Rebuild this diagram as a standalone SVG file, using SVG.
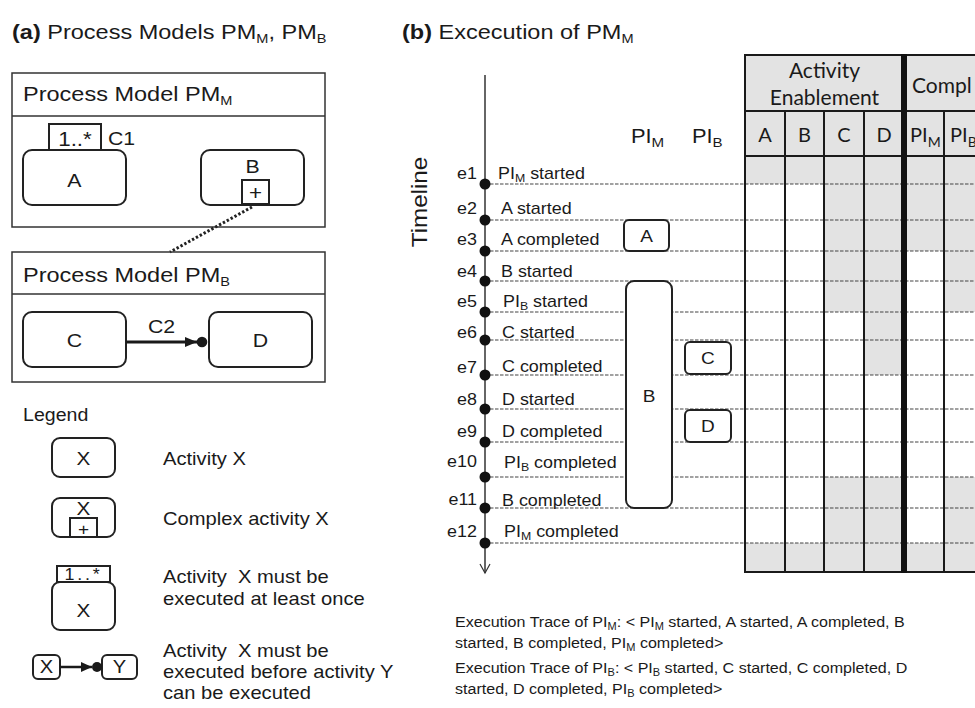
<svg xmlns="http://www.w3.org/2000/svg" width="975" height="708" viewBox="0 0 975 708">
<defs>
<marker id="tri" markerUnits="userSpaceOnUse" markerWidth="12" markerHeight="10" refX="12" refY="5" orient="auto"><path d="M0,0 L12,5 L0,10 z" fill="#1a1a1a"/></marker>
<marker id="tri2" markerUnits="userSpaceOnUse" markerWidth="11" markerHeight="10" refX="11" refY="5" orient="auto"><path d="M0,0 L11,5 L0,10 z" fill="#1a1a1a"/></marker>
</defs>
<style>
text{font-family:"Liberation Sans",Arial,Helvetica,sans-serif;fill:#1a1a1a}
.s{transform-box:fill-box;transform-origin:0 50%;transform:scaleX(1.12)}
.m{text-anchor:middle;transform-box:fill-box;transform-origin:50% 50%;transform:scaleX(1.12)}
.e{text-anchor:end;transform-box:fill-box;transform-origin:100% 50%;transform:scaleX(1.12)}
.s5{transform-box:fill-box;transform-origin:0 50%;transform:scaleX(1.05)}
.pre{white-space:pre}
.act{fill:#fff;stroke:#222;stroke-width:2}
.cont{fill:#fff;stroke:#333;stroke-width:1.5}
.tl{font-size:16px}
.bt{font-size:15.3px}
.lg{font-size:18px}
.cal{font-family:Lato,"Open Sans",sans-serif}
.grid{stroke:#1a1a1a;stroke-width:2;fill:none}
.dash{stroke:#444;stroke-width:1.2;stroke-dasharray:3.5 1.5}
.gray{fill:#e3e3e3}
.dot{fill:#111}
</style>
<rect width="975" height="708" fill="#fff"/>

<!-- Titles -->
<text class="s" x="12" y="39" font-size="21"><tspan font-weight="bold">(a)</tspan> Process Models PM<tspan font-size="13" dy="4">M</tspan><tspan dy="-4">, PM</tspan><tspan font-size="13" dy="4">B</tspan></text>
<text class="s" x="402" y="39" font-size="21"><tspan font-weight="bold">(b)</tspan> Excecution of PM<tspan font-size="13" dy="4">M</tspan></text>

<!-- Process model PM_M -->
<g id="pm-m">
<rect class="cont" x="12" y="73" width="313" height="154"/>
<line x1="12" y1="116" x2="325" y2="116" stroke="#333" stroke-width="1.5"/>
<text class="s" x="23" y="101" font-size="21">Process Model PM<tspan font-size="13" dy="4">M</tspan></text>
</g>
<g id="act-a">
<rect class="act" x="23" y="150" width="103" height="55" rx="9"/>
<text class="m" x="74.5" y="187" font-size="19">A</text>
<rect x="49" y="124" width="52" height="26" fill="#fff" stroke="#222" stroke-width="2"/>
<text class="m" x="75" y="146" font-size="20">1..*</text>
<text class="s" x="108" y="145" font-size="19">C1</text>
</g>
<g id="act-b">
<rect class="act" x="201" y="150" width="103" height="55" rx="9"/>
<text class="m" x="252.5" y="173" font-size="19">B</text>
<rect x="242" y="180" width="27" height="24" fill="#fff" stroke="#222" stroke-width="2"/>
<text class="m" x="255.5" y="200" font-size="20">+</text>
</g>

<!-- Process model PM_B -->
<g id="pm-b">
<rect class="cont" x="12" y="252" width="313" height="130"/>
<line x1="12" y1="294" x2="325" y2="294" stroke="#333" stroke-width="1.5"/>
<text class="s" x="23" y="282" font-size="21">Process Model PM<tspan font-size="13" dy="4">B</tspan></text>
</g>
<g id="act-c">
<rect class="act" x="23" y="312" width="103" height="55" rx="9"/>
<text class="m" x="74.5" y="347" font-size="19">C</text>
</g>
<g id="act-d">
<rect class="act" x="209" y="312" width="103" height="55" rx="9"/>
<text class="m" x="260.5" y="347" font-size="19">D</text>
</g>

<!-- Legend -->
<g id="legend">
<text class="s" x="23" y="421" font-size="17.5">Legend</text>
<rect class="act" x="52" y="438" width="63" height="39" rx="8"/>
<text class="m" x="83.5" y="465" font-size="18.5">X</text>
<text class="s lg" x="163" y="465">Activity X</text>

<rect class="act" x="52" y="498" width="63" height="39" rx="8"/>
<text class="m" x="83.5" y="515" font-size="18.5">X</text>
<rect x="70" y="518" width="27" height="19" fill="#fff" stroke="#222" stroke-width="2"/>
<text class="m" x="83.5" y="535" font-size="17">+</text>
<text class="s lg" x="163" y="525">Complex activity X</text>

<rect class="act" x="52" y="582" width="63" height="48" rx="8"/>
<rect x="57" y="566" width="53" height="16" fill="#fff" stroke="#222" stroke-width="2"/>
<text class="m" x="83.5" y="580" font-size="16" letter-spacing="2.5">1..*</text>
<text class="m" x="83.5" y="617" font-size="18.5">X</text>
<text class="s lg pre" x="163" y="583">Activity  X must be</text>
<text class="s lg" x="163" y="605">executed at least once</text>

<rect class="act" x="33" y="655" width="27" height="24" rx="5"/>
<text class="m" x="46.5" y="673" font-size="18">X</text>
<rect class="act" x="102" y="655" width="35" height="24" rx="5"/>
<text class="m" x="119.5" y="673" font-size="18">Y</text>
<text class="s lg pre" x="163" y="657">Activity  X must be</text>
<text class="s lg" x="163" y="678">executed before activity Y</text>
<text class="s lg" x="163" y="699">can be executed</text>
</g>

<!-- Connectors -->
<g id="connectors">
<line x1="252" y1="207" x2="170" y2="252" stroke="#222" stroke-width="3" stroke-dasharray="2.4 2"/>
<line x1="126" y1="342" x2="197" y2="342" stroke="#1a1a1a" stroke-width="3" marker-end="url(#tri)"/>
<circle cx="202" cy="342" r="5.3" fill="#1a1a1a"/>
<text class="s" x="148" y="333" font-size="19">C2</text>
<line x1="60" y1="667" x2="92" y2="667" stroke="#1a1a1a" stroke-width="2.5" marker-end="url(#tri2)"/>
<circle cx="97" cy="667" r="5" fill="#1a1a1a"/>
</g>

<!-- Table shading -->
<g id="table">
<rect class="gray" x="745" y="55" width="230" height="101"/>
<rect class="gray" x="745" y="156" width="230" height="28"/>
<rect class="gray" x="824" y="184" width="80" height="128"/>
<rect class="gray" x="864" y="312" width="40" height="63"/>
<rect class="gray" x="904" y="184" width="40" height="67"/>
<rect class="gray" x="944" y="184" width="31" height="128"/>
<rect class="gray" x="824" y="477" width="80" height="66"/>
<rect class="gray" x="944" y="477" width="31" height="66"/>
<rect class="gray" x="745" y="543" width="230" height="29"/>
</g>

<!-- Event dashed lines -->
<g id="event-lines">
<line class="dash" x1="485" y1="184" x2="975" y2="184"/>
<line class="dash" x1="485" y1="220" x2="975" y2="220"/>
<line class="dash" x1="485" y1="251" x2="975" y2="251"/>
<line class="dash" x1="485" y1="281" x2="975" y2="281"/>
<line class="dash" x1="485" y1="312" x2="975" y2="312"/>
<line class="dash" x1="485" y1="340" x2="975" y2="340"/>
<line class="dash" x1="485" y1="375" x2="975" y2="375"/>
<line class="dash" x1="485" y1="409" x2="975" y2="409"/>
<line class="dash" x1="485" y1="442" x2="975" y2="442"/>
<line class="dash" x1="485" y1="477" x2="975" y2="477"/>
<line class="dash" x1="485" y1="508" x2="975" y2="508"/>
<line class="dash" x1="485" y1="543" x2="975" y2="543"/>
</g>

<!-- Table grid -->
<g id="table-grid">
<line class="grid" x1="745" y1="55" x2="975" y2="55"/>
<line class="grid" x1="745" y1="111" x2="975" y2="111"/>
<line class="grid" x1="745" y1="156" x2="975" y2="156"/>
<line class="grid" x1="745" y1="572" x2="975" y2="572"/>
<line class="grid" x1="745" y1="54" x2="745" y2="573"/>
<line class="grid" x1="785" y1="111" x2="785" y2="573"/>
<line class="grid" x1="824" y1="111" x2="824" y2="573"/>
<line class="grid" x1="864" y1="111" x2="864" y2="573"/>
<line class="grid" x1="944" y1="111" x2="944" y2="573"/>
<line x1="904" y1="54" x2="904" y2="573" stroke="#111" stroke-width="6"/>
<text class="cal" x="824.5" y="78" font-size="21" text-anchor="middle">Activity</text>
<text class="cal" x="824.5" y="105" font-size="21" text-anchor="middle">Enablement</text>
<text class="cal" x="912" y="93" font-size="21">Compl</text>
<text class="cal" x="765" y="142" font-size="20" text-anchor="middle">A</text>
<text class="cal" x="804.5" y="142" font-size="20" text-anchor="middle">B</text>
<text class="cal" x="844" y="142" font-size="20" text-anchor="middle">C</text>
<text class="cal" x="884" y="142" font-size="20" text-anchor="middle">D</text>
<text class="cal" x="910" y="142" font-size="20">PI<tspan font-size="14" dy="5">M</tspan></text>
<text class="cal" x="950" y="142" font-size="20">PI<tspan font-size="14" dy="5">B</tspan></text>
</g>

<!-- Timeline -->
<g id="timeline">
<line x1="485" y1="75" x2="485" y2="573" stroke="#333" stroke-width="1.5"/>
<polyline points="480,564 485,573 490,564" fill="none" stroke="#333" stroke-width="1.2"/>
<text transform="translate(427,202) rotate(-90) scale(1.1,1)" text-anchor="middle" font-size="22">Timeline</text>
<text class="s" x="631" y="143" font-size="19.5">PI<tspan font-size="13.5" dy="4">M</tspan></text>
<text class="s" x="692" y="143" font-size="19.5">PI<tspan font-size="13.5" dy="4">B</tspan></text>
</g>

<g id="events">
<circle class="dot" cx="485" cy="184" r="5.5"/>
<circle class="dot" cx="485" cy="220" r="5.5"/>
<circle class="dot" cx="485" cy="251" r="5.5"/>
<circle class="dot" cx="485" cy="281" r="5.5"/>
<circle class="dot" cx="485" cy="312" r="5.5"/>
<circle class="dot" cx="485" cy="340" r="5.5"/>
<circle class="dot" cx="485" cy="375" r="5.5"/>
<circle class="dot" cx="485" cy="409" r="5.5"/>
<circle class="dot" cx="485" cy="442" r="5.5"/>
<circle class="dot" cx="485" cy="477" r="5.5"/>
<circle class="dot" cx="485" cy="508" r="5.5"/>
<circle class="dot" cx="485" cy="543" r="5.5"/>
<text class="e tl" x="477" y="179">e1</text>
<text class="e tl" x="477" y="214">e2</text>
<text class="e tl" x="477" y="245">e3</text>
<text class="e tl" x="477" y="277">e4</text>
<text class="e tl" x="477" y="307">e5</text>
<text class="e tl" x="477" y="338">e6</text>
<text class="e tl" x="477" y="373">e7</text>
<text class="e tl" x="477" y="405">e8</text>
<text class="e tl" x="477" y="437">e9</text>
<text class="e tl" x="477" y="467">e10</text>
<text class="e tl" x="477" y="505">e11</text>
<text class="e tl" x="477" y="537">e12</text>
<text class="s tl" x="498" y="179">PI<tspan font-size="11" dy="3">M</tspan><tspan dy="-3"> started</tspan></text>
<text class="s tl" x="501" y="214">A started</text>
<text class="s tl" x="501" y="245">A completed</text>
<text class="s tl" x="501" y="277">B started</text>
<text class="s tl" x="503" y="307">PI<tspan font-size="11" dy="3">B</tspan><tspan dy="-3"> started</tspan></text>
<text class="s tl" x="502" y="338">C started</text>
<text class="s tl" x="502" y="372">C completed</text>
<text class="s tl" x="502" y="405">D started</text>
<text class="s tl" x="502" y="437">D completed</text>
<text class="s tl" x="504" y="468">PI<tspan font-size="11" dy="3">B</tspan><tspan dy="-3"> completed</tspan></text>
<text class="s tl" x="502" y="506">B completed</text>
<text class="s tl" x="504" y="537">PI<tspan font-size="11" dy="3">M</tspan><tspan dy="-3"> completed</tspan></text>
</g>

<!-- Instance boxes -->
<g id="inst-a">
<rect class="act" x="624" y="220" width="45" height="31" rx="5"/>
<text class="m" x="646.5" y="242" font-size="17">A</text>
</g>
<g id="inst-b">
<rect class="act" x="626" y="281" width="46" height="227" rx="8"/>
<text class="m" x="649" y="402" font-size="17">B</text>
</g>
<g id="inst-c">
<rect class="act" x="685" y="342" width="46" height="32" rx="5"/>
<text class="m" x="708" y="364" font-size="17">C</text>
</g>
<g id="inst-d">
<rect class="act" x="685" y="410" width="46" height="32" rx="5"/>
<text class="m" x="708" y="432" font-size="17">D</text>
</g>

<!-- Traces -->
<g id="traces">
<text class="s5 bt" x="455" y="627">Execution Trace of PI<tspan font-size="10.5" dy="3">M</tspan><tspan dy="-3">: &lt; PI</tspan><tspan font-size="10.5" dy="3">M</tspan><tspan dy="-3"> started, A started, A completed, B</tspan></text>
<text class="s5 bt" x="455" y="648">started, B completed, PI<tspan font-size="10.5" dy="3">M</tspan><tspan dy="-3"> completed&gt;</tspan></text>
<text class="s5 bt" x="455" y="673">Execution Trace of PI<tspan font-size="10.5" dy="3">B</tspan><tspan dy="-3">: &lt; PI</tspan><tspan font-size="10.5" dy="3">B</tspan><tspan dy="-3"> started, C started, C completed, D</tspan></text>
<text class="s5 bt" x="455" y="694">started, D completed, PI<tspan font-size="10.5" dy="3">B</tspan><tspan dy="-3"> completed&gt;</tspan></text>
</g>
</svg>
